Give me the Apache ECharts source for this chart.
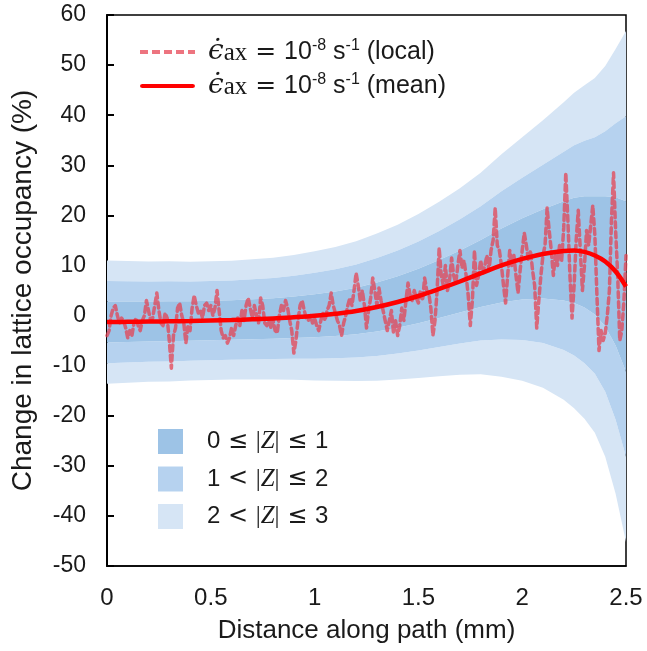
<!DOCTYPE html>
<html>
<head>
<meta charset="utf-8">
<script src="https://cdn.jsdelivr.net/npm/echarts@6/dist/echarts.min.js"></script>
<style>html,body{margin:0;padding:0;background:#fff;}#c{width:647px;height:651px;}</style>
</head>
<body>
<div id="c"></div>
<script>
// ---- data ----
const xTicks = [0, 0.5, 1, 1.5, 2, 2.5];
const yTicks = [-50, -40, -30, -20, -10, 0, 10, 20, 30, 40, 50, 60];

// band grid positions (mm)
const xBand = [0,0.1,0.2,0.3,0.4,0.5,0.6,0.7,0.8,0.9,1.0,1.1,1.2,1.3,1.4,1.5,1.6,1.7,1.8,1.9,2.0,2.1,2.2,2.25,2.3,2.35,2.4,2.45,2.5];
// mean change (%)
const meanVals = [-1.3,-1.25,-1.2,-1.15,-1.1,-1.0,-0.9,-0.75,-0.6,-0.35,-0.05,0.35,0.9,1.7,2.7,3.9,5.3,6.8,8.4,10.0,11.3,12.3,12.9,13.0,12.7,12.0,10.8,8.8,5.8];
// one standard deviation (%)
const sigmaVals = [4.1,4.05,4.0,4.0,3.95,3.95,3.95,4.0,4.05,4.15,4.3,4.45,4.65,4.9,5.15,5.45,5.8,6.2,6.7,7.4,8.1,8.9,9.9,10.5,11.1,11.8,13.0,14.8,17.0];

// local values, one every 0.01 mm from 0 to 2.5
const localStep = 0.01;
const localVals = [
-4,-3,0,1.5,2,0,-1.5,-0.5,-1,-2.5,
-4.5,-3,-4,-1.5,-0.5,-2,-3,-1,0,3,
1,-1,-0.5,2,4.5,1,-1.5,-2,0.5,-0.5,
-5,-10.5,-4,-2.5,1.5,2.5,0,-1.5,-5.5,-2,
-3,1.5,4,2,0.5,1,-0.5,2,2.5,1,
2,0,1.5,5,1,-3,-4.5,-4,-5.5,-4.5,
-2.5,-4,-2,-0.5,-2,1,-1,2,3.5,1.5,
-0.5,2,0,-1.5,3.5,2,-1.5,-2,-1,-2.5,
-1,-3,-3.5,0,2,1,3,1.5,-1,-3,
-7.5,-5,-1,2,3,1,-0.5,-1,0,-1.5,
-0.5,-2,-3,-1,0.5,-1,1,2,4.5,2,
0.5,-1,-2,-4,-1.5,0,2,3.5,2,5,
8.5,6,3,5,2,-2.5,1,3.5,7.5,5,
2,5.5,3,1,-1,-3,-1,1,-3.5,-1,
-4,-2,1.5,-1,3,6.5,4,3,5,3.5,
2.5,5,3,7.5,5,4.5,1.5,-4,-1,5,
13.5,8,6,10,5,7,11.5,8,6.5,10,
13,9.5,11,8,4,-2,3,13,6,8,
11,8.5,10,12,9,13,15,21.5,14,13,
10,6,2.5,8,13,10,12,8,4.5,9,
13,16.5,14,11,13,9,6,-2.5,3,8,
12,14,21.5,17,13,8,12,10,14,11,
17.5,28.5,19,8,-0.5,6,15,21,13,5,
10,17,14,18,22,16,4,-7,-3,-5,
-3.5,0,5,19,28.5,17,8,-5,-3,3,
12
];

const legendLocal = 'local';
const legendMean = 'mean';
// bands: name, inner/outer multiples of sigma, colour
const bandNames = ['z1', 'z2', 'z3'];
const bandLevels = {z1: [0, 1], z2: [1, 2], z3: [2, 3]};
const bandLabels = {z1: ['0', '≤', '1'], z2: ['1', '<', '2'], z3: ['2', '<', '3']};
const bandColors = {z1: '#9DC3E6', z2: '#B6D2EF', z3: '#D6E5F5'};

// ---- build ----
const localData = localVals.map((v, i) => [+(i * localStep).toFixed(2), v]);
const meanData = xBand.map((x, i) => [x, meanVals[i]]);

function bandSeries(name) {
  const lv = bandLevels[name];
  const color = bandColors[name];
  return {
    type: 'custom', name: name, silent: true, clip: true, z: 1,
    itemStyle: {color: color},
    data: [0],
    renderItem: (params, api) => {
      const edge = k => xBand.map((x, i) => api.coord([x, meanVals[i] + k * sigmaVals[i]]));
      const poly = (a, b) => ({type: 'polygon', shape: {points: edge(a).concat(edge(b).reverse())}, style: {fill: color}});
      const kids = [];
      if (lv[0] === 0) {
        kids.push(poly(lv[1], -lv[1]));
      } else {
        kids.push(poly(lv[1], lv[0]));
        kids.push(poly(-lv[0], -lv[1]));
      }
      return {type: 'group', children: kids};
    }
  };
}

const FONT = 'Liberation Sans, Arial, sans-serif';
const TXT = '#1a1a1a';

const option = {
  animation: false,
  backgroundColor: '#fff',
  grid: {left: 107, right: 21, top: 15, bottom: 85, show: true, borderColor: '#000', borderWidth: 1.5, backgroundColor: 'transparent'},
  xAxis: {
    type: 'value', min: 0, max: 2.5, interval: 0.5,
    name: 'Distance along path (mm)', nameLocation: 'middle', nameGap: 52,
    nameTextStyle: {fontSize: 26, fontFamily: FONT, color: TXT},
    axisLine: {show: true, onZero: false, lineStyle: {color: '#000', width: 1.5}},
    axisTick: {show: false}, splitLine: {show: false},
    axisLabel: {fontSize: 24, fontFamily: FONT, color: TXT, margin: 20,
      formatter: v => xTicks.indexOf(+v.toFixed(2)) >= 0 ? String(+v.toFixed(2)) : ''}
  },
  yAxis: {
    type: 'value', min: -50, max: 60, interval: 10,
    name: 'Change in lattice occupancy (%)', nameLocation: 'middle', nameGap: 70,
    nameTextStyle: {fontSize: 28, fontFamily: FONT, color: TXT},
    axisLine: {show: true, onZero: false, lineStyle: {color: '#000', width: 2}},
    axisTick: {show: true, inside: true, length: 7, lineStyle: {color: '#000', width: 2}},
    splitLine: {show: false},
    axisLabel: {fontSize: 23, fontFamily: FONT, color: TXT, margin: 21,
      formatter: v => yTicks.indexOf(v) >= 0 ? String(v) : ''}
  },
  legend: [
    {
      left: 135, top: 33, orient: 'vertical', itemWidth: 55, itemHeight: 4, itemGap: 6,
      symbolKeepAspect: false, selectedMode: false,
      data: [
        {name: legendLocal, icon: 'path://M0,0h8v4h-8zM12,0h8v4h-8zM24,0h8v4h-8zM36,0h8v4h-8zM48,0h7v4h-7z'},
        {name: legendMean, icon: 'path://M2,0h51a2,2 0 0 1 0,5h-51a2,2 0 0 1 0,-5z'}
      ],
      formatter: n => '{e|ϵ̇}{s|ax}{q| = }{t|10}{p|-8}{t| s}{p|-1}{t| (' + n + ')}',
      textStyle: {
        padding: [0, 0, 0, 8],
        rich: {
          t: {fontSize: 25, fontFamily: FONT, color: TXT, lineHeight: 28},
          q: {fontSize: 25, fontFamily: 'DejaVu Sans', color: TXT, lineHeight: 28},
          e: {fontSize: 28, fontFamily: 'DejaVu Serif', fontStyle: 'italic', color: TXT, lineHeight: 28},
          s: {fontSize: 25, fontFamily: 'Liberation Serif', color: TXT, lineHeight: 14, verticalAlign: 'bottom'},
          p: {fontSize: 16, fontFamily: FONT, color: TXT, lineHeight: 20, verticalAlign: 'top'}
        }
      }
    },
    {
      left: 153, top: 424, orient: 'vertical', itemWidth: 25, itemHeight: 25, itemGap: 12.5,
      icon: 'rect', selectedMode: false,
      data: bandNames,
      formatter: n => '{t|' + bandLabels[n][0] + '}{q| ' + bandLabels[n][1] + ' }{z||}{zi|Z}{z||}{q| ≤ }{t|' + bandLabels[n][2] + '}',
      textStyle: {
        padding: [0, 0, 0, 19],
        rich: {
          t: {fontSize: 24, fontFamily: FONT, color: TXT, lineHeight: 25},
          q: {fontSize: 24, fontFamily: 'DejaVu Sans', color: TXT, lineHeight: 25},
          z: {fontSize: 25, fontFamily: 'Liberation Serif', color: TXT, lineHeight: 25},
          zi: {fontSize: 25, fontFamily: 'Liberation Serif', fontStyle: 'italic', color: TXT, lineHeight: 25}
        }
      }
    }
  ],
  series: [
    bandSeries('z3'),
    bandSeries('z2'),
    bandSeries('z1'),
    {type: 'line', name: legendLocal, data: localData, symbol: 'none', z: 3,
     itemStyle: {color: 'rgba(230,62,78,0.72)'},
     lineStyle: {color: 'rgba(230,62,78,0.72)', width: 3.5, type: [6, 4], cap: 'round', join: 'round'}},
    {type: 'line', name: legendMean, data: meanData, smooth: 0.4, symbol: 'none', z: 4,
     itemStyle: {color: '#FF0000'},
     lineStyle: {color: '#FF0000', width: 4.5}}
  ]
};

const chart = echarts.init(document.getElementById('c'), null, {renderer: 'canvas'});
chart.setOption(option);
</script>
</body>
</html>
